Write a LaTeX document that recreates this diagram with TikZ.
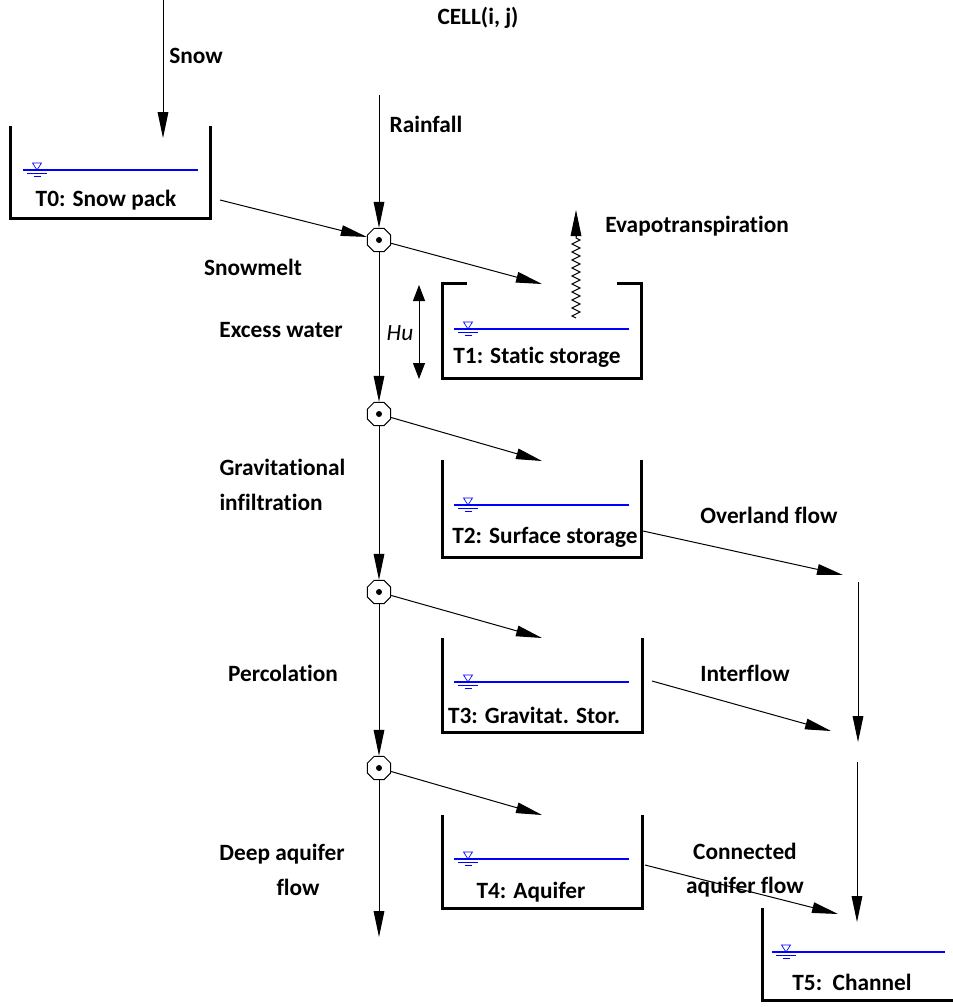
\documentclass[tikz,border=0pt]{standalone}
\usepackage{fontspec}
\setmainfont{Carlito}[Ligatures=NoCommon]
\usetikzlibrary{arrows.meta,shapes.geometric,decorations.pathmorphing}

\tikzset{every picture/.style={line width=0.75pt}}
\tikzset{
  lbl/.style={font=\fontsize{17.5}{26}\selectfont\bfseries, inner sep=0pt},
  tank/.style={line width=2.25pt},
  wline/.style={blue, line width=1pt},
  flow/.style={-{Triangle[length=19.5pt,width=8pt]}},
  junc/.style={draw, regular polygon, regular polygon sides=8, minimum size=19pt, inner sep=0pt, fill=white},
  wlev/.pic={
    \draw[blue, line width=0.5pt] (-4.5,7) -- (4.5,7) -- (0,0) -- cycle;
    \draw[blue, line width=0.5pt] (-10,-3) -- (10,-3) (-3.5,-6.5) -- (3.5,-6.5);
  }
}

\begin{document}
\begin{tikzpicture}[x=0.75pt,y=0.75pt,yscale=-1,xscale=1]
\useasboundingbox (0,0) rectangle (953,1007);

%Shape: Tanks
\draw [tank] (10,126) -- (10,218) -- (210,218) -- (210,126) ;
\draw [tank] (467,283) -- (442,283) -- (442,378) -- (641,378) -- (641,283) -- (617,283) ;
\draw [tank] (442,460) -- (442,557) -- (641,557) -- (641,460) ;
\draw [tank] (442,638) -- (442,732) -- (642,732) -- (642,638) ;
\draw [tank] (442,815) -- (442,908) -- (642,908) -- (642,815) ;
\draw [tank] (762,908) -- (762,1000) -- (953,1000) ;

%Shape: Water levels
\draw [wline] (23,170) -- (198,170) ;   \pic at (37,170) {wlev};
\draw [wline] (454,329) -- (629,329) ;  \pic at (468,329) {wlev};
\draw [wline] (454,505) -- (629,505) ;  \pic at (468,505) {wlev};
\draw [wline] (454,682) -- (629,682) ;  \pic at (468,682) {wlev};
\draw [wline] (454,859) -- (629,859) ;  \pic at (468,859) {wlev};
\draw [wline] (772,952) -- (945,952) ;  \pic at (786,952) {wlev};

%Junctions
\node [junc] (J1) at (379,240) {};
\node [junc] (J2) at (379,414) {};
\node [junc] (J3) at (379,592) {};
\node [junc] (J4) at (379,768) {};
\foreach \j in {J1,J2,J3,J4} \fill (\j.center) circle (3);

%Free ends
\coordinate (snowtop) at (163,0);
\coordinate (snowin) at (163,138);
\coordinate (raintop) at (379,95);
\coordinate (t0out) at (220,200);
\coordinate (t1in) at (542,284);
\coordinate (t2in) at (542,461);
\coordinate (t3in) at (542,638);
\coordinate (t4in) at (542,815);
\coordinate (deepout) at (379,937);
\coordinate (evlow) at (576,318);
\coordinate (evmid) at (576,236);
\coordinate (evtop) at (576,210);
\coordinate (hutop) at (419,285);
\coordinate (hubot) at (419,379);
\coordinate (t2out) at (643,531);
\coordinate (ovin) at (843,575);
\coordinate (t3out) at (652,681);
\coordinate (intin) at (831,731);
\coordinate (t4out) at (645,865);
\coordinate (aqin) at (838,914);
\coordinate (ch1top) at (858,582);
\coordinate (ch1bot) at (858,742);
\coordinate (ch2top) at (857,762);
\coordinate (ch2bot) at (857,922);

%Connectors
\draw [flow] (snowtop) -- (snowin) ;
\draw [flow] (raintop) -- (J1) ;
\draw [flow] (t0out) -- (J1) ;
\draw [flow] (J1) -- (t1in) ;
\draw [flow] (J1) -- (J2) ;
\draw [flow] (J2) -- (t2in) ;
\draw [flow] (J2) -- (J3) ;
\draw [flow] (J3) -- (t3in) ;
\draw [flow] (J3) -- (J4) ;
\draw [flow] (J4) -- (t4in) ;
\draw [flow] (J4) -- (deepout) ;
\draw [decorate, decoration={zigzag, segment length=6pt, amplitude=3pt}] (evlow) -- (evmid) ;
\draw [flow] (evmid) -- (evtop) ;
\draw [{Triangle[length=12pt,width=9pt]}-{Triangle[length=12pt,width=9pt]}] (hutop) -- (hubot) ;
\draw [flow] (t2out) -- (ovin) ;
\draw [flow] (t3out) -- (intin) ;
\draw [flow] (t4out) -- (aqin) ;
\draw [flow] (ch1top) -- (ch1bot) ;
\draw [flow] (ch2top) -- (ch2bot) ;

% Text Node
\node [lbl] (title) at (478,18) {CELL(i, j)};
\node [lbl] (snow) at (196,56) {Snow};
\node [lbl] (rain) at (426,124) {Rainfall};
\node [lbl] (evap) at (697,226) {Evapotranspiration};
\node [lbl] (melt) at (253,267) {Snowmelt};
\node [lbl] (excess) at (281,330) {Excess water};
\node [lbl, font=\fontsize{17.5}{20}\selectfont\itshape] (hu) at (400,333) {Hu};
\node [lbl, anchor=west, align=left] (grav) at (219,485) {Gravitational\\infiltration};
\node [lbl] (overland) at (769,515) {Overland flow};
\node [lbl] (perc) at (283,673) {Percolation};
\node [lbl] (inter) at (745,673) {Interflow};
\node [lbl, align=center] (deep) at (282,870) {Deep aquifer\\\hspace*{24pt}flow};
\node [lbl, align=center] (conn) at (745,870) {Connected\\aquifer flow};
\node [lbl] (t0) at (106,200) {T0: Snow pack};
\node [lbl] (t1) at (537,357) {T1: Static storage};
\node [lbl] (t2) at (545,537) {T2: Surface storage};
\node [lbl] (t3) at (534,715) {T3: Gravitat. Stor.};
\node [lbl] (t4) at (531,892) {T4: Aquifer};
\node [lbl] (t5) at (852,982) {T5:\ \ Channel};

\end{tikzpicture}
\end{document}
